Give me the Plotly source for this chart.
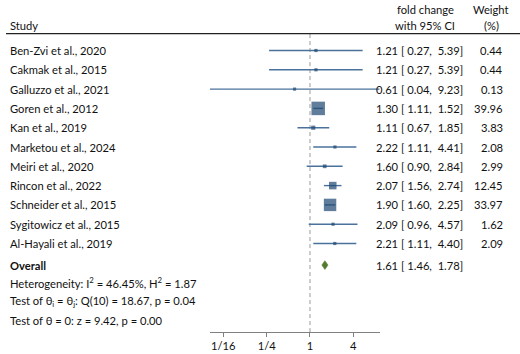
import math
import plotly.graph_objects as go

studies = ["Ben-Zvi et al., 2020", "Cakmak et al., 2015", "Galluzzo et al., 2021",
           "Goren et al., 2012", "Kan et al., 2019", "Marketou et al., 2024",
           "Meiri et al., 2020", "Rincon et al., 2022", "Schneider et al., 2015",
           "Sygitowicz et al., 2015", "Al-Hayali et al., 2019"]
est = [1.21, 1.21, 0.61, 1.30, 1.11, 2.22, 1.60, 2.07, 1.90, 2.09, 2.21]
lo = [0.27, 0.27, 0.04, 1.11, 0.67, 1.11, 0.90, 1.56, 1.60, 0.96, 1.11]
hi = [5.39, 5.39, 9.23, 1.52, 1.85, 4.41, 2.84, 2.74, 2.25, 4.57, 4.40]
weights = [0.44, 0.44, 0.13, 39.96, 3.83, 2.08, 2.99, 12.45, 33.97, 1.62, 2.09]
overall = (1.61, 1.46, 1.78)
tick_vals = [1/16, 1/4, 1, 4]
tick_text = ["1/16", "1/4", "1", "4"]
stats_lines = [
    "Heterogeneity: I<sup>2</sup> = 46.45%, H<sup>2</sup> = 1.87",
    "Test of θ<sub>i</sub> = θ<sub>j</sub>: Q(10) = 18.67, p = 0.04",
    "Test of θ = 0: z = 9.42, p = 0.00",
]

W, H = 520, 354
FONT = "Lato"
FS = 11.2
MARK = "#1c4770"
LINE = "#4a729c"
DIAM = "#557a2d"
TXT = "#111111"

n = len(studies)
rows = list(range(n))
row_overall = n + 0.12

fig = go.Figure()

# reference dashed line at 1
fig.add_trace(go.Scatter(x=[1, 1], y=[-0.85, 14.7], mode="lines",
                         line=dict(color="#9a9a9a", width=1, dash="4px,3px"),
                         hoverinfo="skip"))

# CI lines
for i in rows:
    fig.add_trace(go.Scatter(x=[lo[i], hi[i]], y=[i, i], mode="lines",
                             line=dict(color=LINE, width=1.4), hoverinfo="skip"))

# squares
wmax = max(weights)
sizes = [max(3.2, 13.5 * math.sqrt(w / wmax)) for w in weights]
fig.add_trace(go.Scatter(x=est, y=rows, mode="markers",
                         marker=dict(symbol="square", size=sizes, color=MARK,
                                     line=dict(width=0)),
                         hoverinfo="skip"))

# overall diamond
e, l, h = overall
dh = 0.23
fig.add_trace(go.Scatter(x=[l, e, h, e, l], y=[row_overall, row_overall - dh, row_overall,
                                               row_overall + dh, row_overall],
                         mode="lines", fill="toself", fillcolor=DIAM,
                         line=dict(color=DIAM, width=0.5), hoverinfo="skip"))

ann = []


def px(x):
    return x / W


def add(text, x, y, anchor="left", bold=False, size=FS):
    if bold:
        text = "<b>" + text + "</b>"
    ann.append(dict(text=text, x=px(x), y=y, xref="paper", yref="y",
                    xanchor=anchor, yanchor="middle", showarrow=False,
                    font=dict(family=FONT, size=size, color=TXT)))


def fmt(e, l, h):
    s = f"{e:.2f} [{l:5.2f}, {h:5.2f}]"
    return s.replace(" ", "\u00a0")


# headers
add("Study", 8, -1.32)
add("fold change", 425, -2.1, anchor="center")
add("with 95% CI", 425, -1.3, anchor="center")
add("Weight", 491, -2.1, anchor="center")
add("(%)", 491, -1.3, anchor="center")

for i in rows:
    add(studies[i], 8, i)
    add(fmt(est[i], lo[i], hi[i]), 465, i, anchor="right")
    add(f"{weights[i]:.2f}", 505, i, anchor="right")

add("Overall", 8, row_overall, bold=True)
add(fmt(*overall), 465, row_overall, anchor="right")

for k, s in enumerate(stats_lines):
    add(s, 8, n + 1 + k)

# axis range from pixel geometry
x_left, x_right = 0.0408, 9.39

fig.update_layout(
    width=W, height=H,
    margin=dict(l=0, r=0, t=0, b=22),
    paper_bgcolor="white", plot_bgcolor="white",
    showlegend=False,
    annotations=ann,
    shapes=[dict(type="line", xref="paper", yref="y", x0=px(6), x1=1,
                 y0=-0.87, y1=-0.87, line=dict(color="#222222", width=1.3))],
    xaxis=dict(type="log", range=[math.log10(x_left), math.log10(x_right)],
               domain=[210 / W, 380 / W],
               tickvals=tick_vals, ticktext=tick_text,
               showgrid=False, zeroline=False,
               showline=True, linecolor="#808080", linewidth=1,
               ticks="outside", ticklen=4, tickcolor="#808080",
               tickfont=dict(family=FONT, size=FS, color=TXT)),
    yaxis=dict(range=[(332 - 50.5) / 19.3, -50.5 / 19.3], visible=False,
               showgrid=False, zeroline=False),
)

fig.write_html("out.html")
